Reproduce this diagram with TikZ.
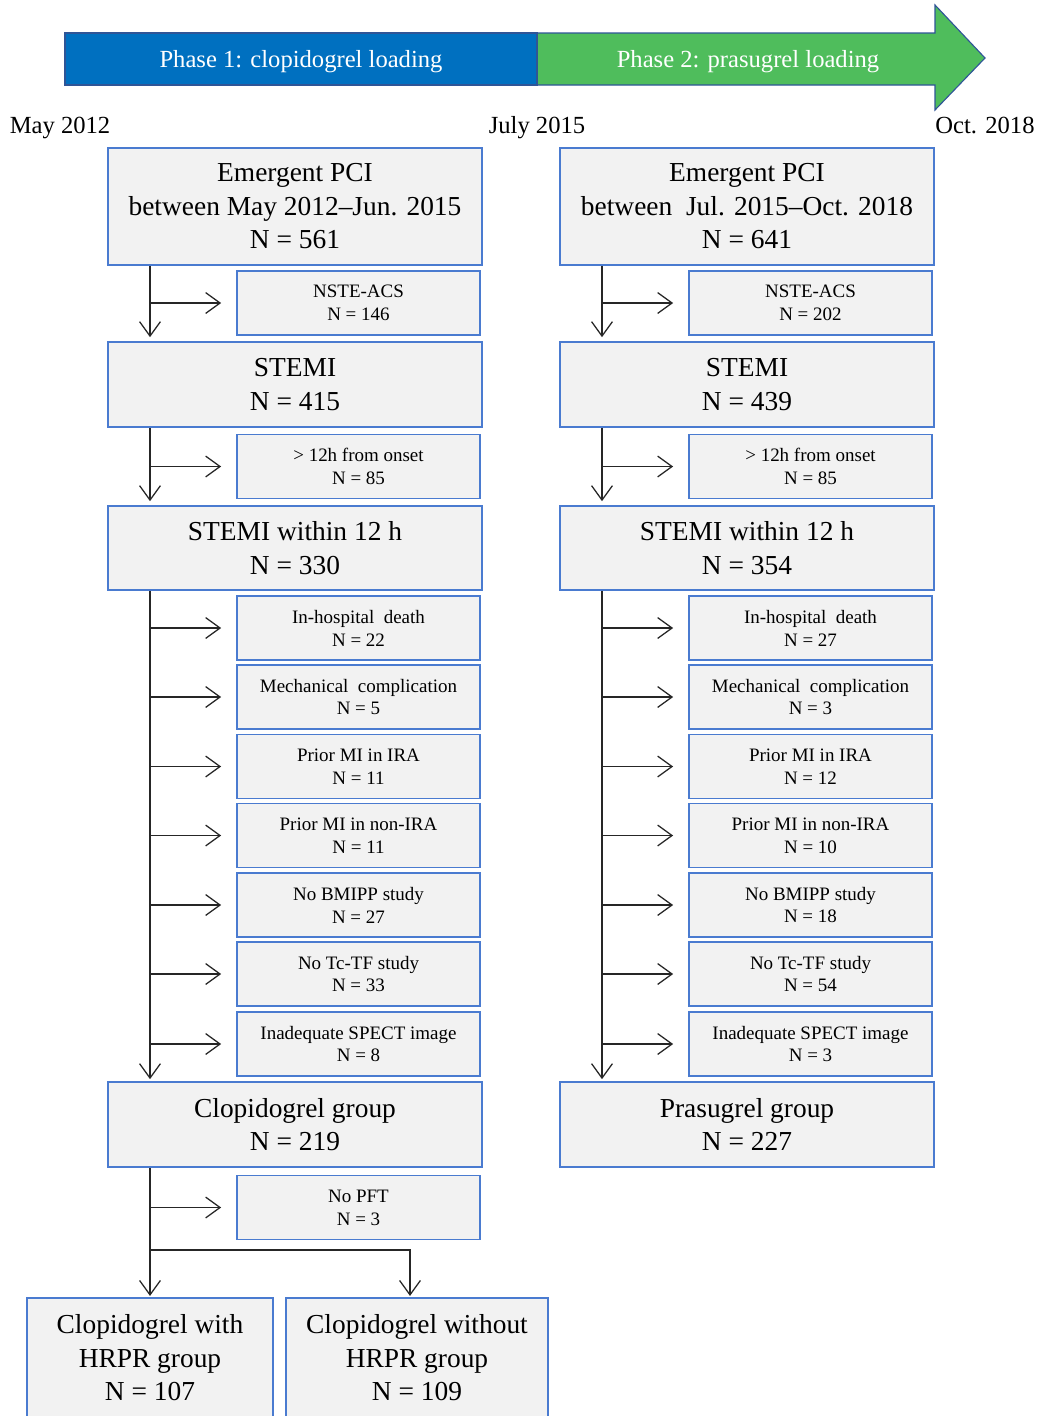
\documentclass[tikz,border=0pt]{standalone}
\usepackage{fontspec}
\setmainfont{Liberation Serif}
\usepackage{tikz}
\usetikzlibrary{arrows.meta,calc}

\definecolor{phaseblue}{HTML}{0070C0}
\definecolor{phasegreen}{HTML}{4FBD5C}
\definecolor{edgeblue}{HTML}{2F5597}
\definecolor{boxblue}{HTML}{4A7BD0}
\definecolor{boxgray}{HTML}{F2F2F2}
\newcommand{\bigfnt}{\fontsize{19.5}{23.8}\selectfont}
\newcommand{\smallfnt}{\fontsize{13.5}{16.3}\selectfont}

\tikzset{
  >={Straight Barb[length=0.36cm,width=0.52cm]},
  bigbox/.style={draw=boxblue,fill=boxgray,line width=1.2pt,inner sep=0pt,
    minimum width=9.35cm,align=center,font=\bigfnt},
  exclbox/.style={draw=boxblue,fill=boxgray,line width=1.2pt,inner sep=0pt,
    minimum width=6.075cm,minimum height=1.6cm,align=center,font=\smallfnt},
  flow/.style={->,line width=0.9pt,black!85},
  datelab/.style={anchor=base,font=\fontsize{17.5}{20}\selectfont},
}

\begin{document}
\begin{tikzpicture}[x=0.025cm,y=-0.025cm]
\clip (0,0) rectangle (1039,1416);
\fill[white] (0,0) rectangle (1039,1416);

% timeline arrow
\filldraw[fill=phasegreen,draw=edgeblue,line width=0.8pt]
  (537,33) -- (935,33) -- (935,5) -- (985,58) -- (935,110) -- (935,85) -- (537,85) -- cycle;
\filldraw[fill=phaseblue,draw=edgeblue,line width=0.8pt] (65,33) rectangle (537,85);
\node[text=white,datelab] (ph1) at (301,67) {Phase 1: clopidogrel loading};
\node[text=white,datelab] (ph2) at (748,67) {Phase 2: prasugrel loading};
\node[datelab] (d1) at (60,133) {May 2012};
\node[datelab] (d2) at (537,133) {July 2015};
\node[datelab] (d3) at (985,133) {Oct. 2018};

% clopidogrel column
\node[bigbox,minimum height=2.925cm] (pciL) at (295,206.5)
  {Emergent PCI\\between May 2012--Jun. 2015\\N = 561};
\node[exclbox] (nsteL) at (358.5,303) {NSTE-ACS\\N = 146};
\node[bigbox,minimum height=2.125cm] (stemiL) at (295,384.5) {STEMI\\N = 415};
\node[exclbox] (lateL) at (358.5,466.5) {> 12h from onset\\N = 85};
\node[bigbox,minimum height=2.1cm] (winL) at (295,548) {STEMI within 12 h\\N = 330};
\node[bigbox,minimum height=2.125cm] (grpL) at (295,1124.5) {Clopidogrel group\\N = 219};
\node[exclbox] (nopft) at (358.5,1207.5) {No PFT\\N = 3};
\node[bigbox,minimum width=6.15cm,minimum height=3cm] (hrpr) at (150,1358)
  {Clopidogrel with\\HRPR group\\N = 107};
\node[bigbox,minimum width=6.55cm,minimum height=3cm] (nohrpr) at (417,1358)
  {Clopidogrel without\\HRPR group\\N = 109};

% prasugrel column
\node[bigbox,minimum height=2.925cm] (pciR) at (747,206.5)
  {Emergent PCI\\between\ \ Jul. 2015--Oct. 2018\\N = 641};
\node[exclbox] (nsteR) at (810.5,303) {NSTE-ACS\\N = 202};
\node[bigbox,minimum height=2.125cm] (stemiR) at (747,384.5) {STEMI\\N = 439};
\node[exclbox] (lateR) at (810.5,466.5) {> 12h from onset\\N = 85};
\node[bigbox,minimum height=2.1cm] (winR) at (747,548) {STEMI within 12 h\\N = 354};
\node[bigbox,minimum height=2.125cm] (grpR) at (747,1124.5) {Prasugrel group\\N = 227};

% exclusions after STEMI within 12 h
\foreach \y/\why/\nl/\nr [count=\i] in {628/In-hospital\ \ death/22/27,
    697/Mechanical\ \ complication/5/3, 766.5/Prior MI in IRA/11/12,
    835.5/Prior MI in non-IRA/11/10, 905/No BMIPP study/27/18,
    974/No Tc-TF study/33/54, 1044/Inadequate SPECT image/8/3} {
  \node[exclbox] (exL\i) at (358.5,\y) {\why\\N = \nl};
  \node[exclbox] (exR\i) at (810.5,\y) {\why\\N = \nr};
}

% trunk lines
\coordinate (tL) at (150,0);
\coordinate (tR) at (602,0);
\foreach \s in {L,R} {
  \draw[flow,shorten >=0.1cm] (pci\s.south -| t\s) -- (stemi\s.north -| t\s);
  \draw[flow,shorten >=0.1cm] (stemi\s.south -| t\s) -- (win\s.north -| t\s);
  \draw[flow,shorten >=0.05cm] (win\s.south -| t\s) -- (grp\s.north -| t\s);
  \draw[flow,shorten >=0.375cm] (nste\s.west -| t\s) -- (nste\s.west);
  \draw[flow,shorten >=0.375cm] (late\s.west -| t\s) -- (late\s.west);
  \foreach \i in {1,...,7}
    \draw[flow,shorten >=0.375cm] (ex\s\i.west -| t\s) -- (ex\s\i.west);
}

% split into HRPR groups
\coordinate (split) at (150,1250);
\draw[flow,shorten >=0.03cm] (grpL.south -| tL) -- (hrpr.north);
\draw[flow,shorten >=0.375cm] (nopft.west -| tL) -- (nopft.west);
\draw[flow,shorten >=0.03cm] (split) -| ([xshift=-0.175cm]nohrpr.north);
\end{tikzpicture}
\end{document}
